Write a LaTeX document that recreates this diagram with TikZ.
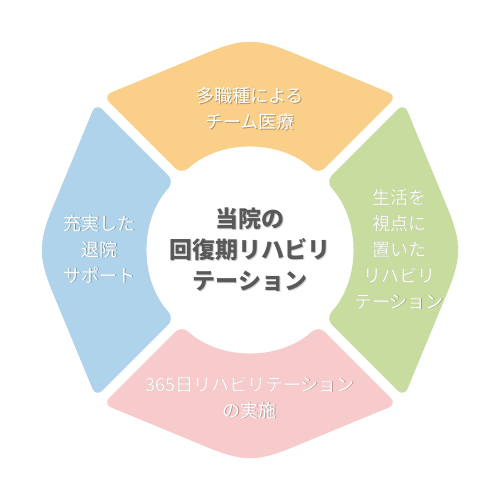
\documentclass[tikz,border=0pt]{standalone}
\usepackage{fontspec}
\newfontfamily\cjk{Noto Sans CJK JP}
\usetikzlibrary{calc}
\definecolor{orng}{HTML}{F9CF89}
\definecolor{blu}{HTML}{AFD3EA}
\definecolor{pnk}{HTML}{F7CBCB}
\definecolor{grn}{HTML}{C9DC9F}
\definecolor{ctext}{HTML}{595959}
\tikzset{
  petal/.style={rounded corners=9pt},
  wlabel/.style={text=white, align=center, font=\cjk\fontsize{18}{26}\selectfont, inner sep=0pt},
  slabel/.style={text=black, opacity=0.28, align=center, font=\cjk\fontsize{18}{26}\selectfont, inner sep=0pt},
  clabel/.style={text=ctext, align=center, font=\cjk\bfseries\fontsize{23}{31}\selectfont, inner sep=0pt},
  cshadow/.style={text=black, opacity=0.18, align=center, font=\cjk\bfseries\fontsize{23}{31}\selectfont, inner sep=0pt}
}
\begin{document}
\begin{tikzpicture}[x=1pt,y=1pt]
\useasboundingbox[fill=white] (-250,-250) rectangle (250,250);
\foreach \ang/\col in {0/orng,90/blu,180/pnk,270/grn}{
  \fill[\col, petal, rotate=\ang] (-147.03,154.10) -- (-50.8,193.9) .. controls (-7.6,211.8) and (7.6,211.8) .. (50.8,193.9) -- (147.03,154.10) -- (68.50,75.58) arc[start angle=47.8, end angle=132.2, radius=102] -- cycle;
}
% shadows
\node[slabel] (ts) at (0.8,140.7) {多職種による\\チーム医療};
\node[slabel] (ls) at (-149.2,0.2) {充実した\\退院\\サポート};
\node[slabel] (rs) at (149.8,0.2) {生活を\\視点に\\置いた\\リハビリ\\テーション};
\node[slabel] (bs) at (0.8,-148.3) {365日リハビリテーション\\の実施};
\node[cshadow] (cs) at (1,-1) {当院の\\回復期リハビリ\\テーション};
% labels
\node[wlabel] (t) at (0,141.5) {多職種による\\チーム医療};
\node[wlabel] (l) at (-150,1) {充実した\\退院\\サポート};
\node[wlabel] (r) at (149,1) {生活を\\視点に\\置いた\\リハビリ\\テーション};
\node[wlabel] (b) at (0,-147.5) {365日リハビリテーション\\の実施};
\node[clabel] (c) at (0,0) {当院の\\回復期リハビリ\\テーション};
\end{tikzpicture}
\end{document}
